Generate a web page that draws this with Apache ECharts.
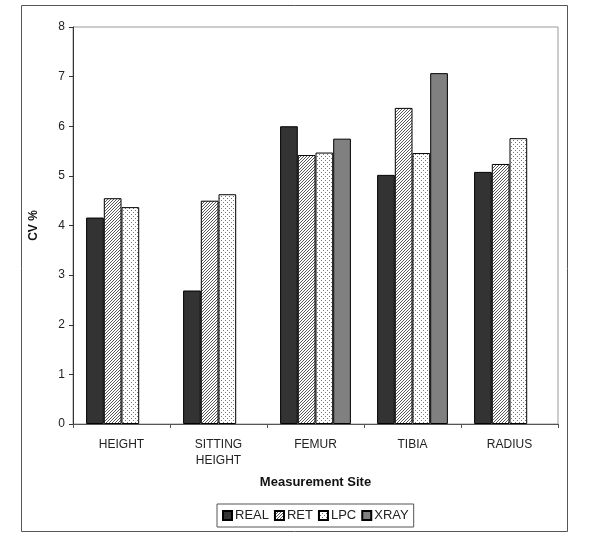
<!DOCTYPE html>
<html>
<head>
<meta charset="utf-8">
<script src="https://cdn.jsdelivr.net/npm/echarts@6/dist/echarts.min.js"></script>
<style>
  html, body { margin: 0; padding: 0; background: #fff; }
  #main { width: 600px; height: 537px; }
</style>
</head>
<body>
<div id="main"></div>
<script>
// 数据
var categories = ['HEIGHT', 'SITTING\nHEIGHT', 'FEMUR', 'TIBIA', 'RADIUS']
var real = [4.16, 2.69, 6.0, 5.02, 5.08]
var ret = [4.55, 4.5, 5.42, 6.37, 5.24]
var lpc = [4.37, 4.63, 5.47, 5.46, 5.76]
var xray = [null, null, 5.75, 7.07, null]
var yTicks = [0, 1, 2, 3, 4, 5, 6, 7, 8]

// 斜线填充
function hatch () {
  var c = document.createElement('canvas')
  c.width = 3
  c.height = 3
  var ctx = c.getContext('2d')
  ctx.fillStyle = '#fff'
  ctx.fillRect(0, 0, 3, 3)
  ctx.fillStyle = '#5a5a5a'
  for (var x = 0; x < 3; x++) {
    for (var y = 0; y < 3; y++) {
      if ((x + y) % 3 === 0) ctx.fillRect(x, y, 1, 1)
    }
  }
  return { image: c, repeat: 'repeat' }
}

// 点状填充
function dots () {
  var c = document.createElement('canvas')
  c.width = 4
  c.height = 4
  var ctx = c.getContext('2d')
  ctx.fillStyle = '#fff'
  ctx.fillRect(0, 0, 4, 4)
  ctx.fillStyle = '#777'
  ctx.fillRect(1, 0, 1, 1)
  ctx.fillRect(3, 2, 1, 1)
  return { image: c, repeat: 'repeat' }
}

var font = 'Liberation Sans'
var myChart = echarts.init(document.getElementById('main'))

function bar (name, data, color) {
  return {
    name: name,
    type: 'bar',
    data: data,
    barGap: '0%',
    barCategoryGap: '27%',
    itemStyle: { color: color, borderColor: '#000', borderWidth: 1 },
    animation: false
  }
}

var option = {
  backgroundColor: '#fff',
  animation: false,
  graphic: [{
    type: 'rect',
    shape: { x: 21.5, y: 5.5, width: 546, height: 526 },
    style: { fill: 'none', stroke: '#555', lineWidth: 1 },
    z: -1
  }],
  grid: {
    left: 73,
    right: 42,
    top: 27,
    bottom: 113,
    show: true,
    borderColor: '#999',
    borderWidth: 1
  },
  legend: {
    left: 217,
    top: 504,
    icon: 'rect',
    itemWidth: 9,
    itemHeight: 9,
    itemGap: 5,
    padding: [5, 5],
    borderColor: '#555',
    borderWidth: 1,
    textStyle: { fontFamily: font, fontSize: 13, color: '#222', padding: [0, 0, 0, -2] },
    data: ['REAL', 'RET', 'LPC', 'XRAY']
  },
  xAxis: {
    type: 'category',
    data: categories,
    name: 'Measurement Site',
    nameLocation: 'middle',
    nameGap: 52,
    nameTextStyle: { fontFamily: font, fontSize: 13, fontWeight: 'bold', color: '#111' },
    axisLine: { lineStyle: { color: '#555', width: 1 } },
    axisTick: { show: true, length: 4, lineStyle: { color: '#555' } },
    axisLabel: { fontFamily: font, fontSize: 12, color: '#222', margin: 13, lineHeight: 16 }
  },
  yAxis: {
    type: 'value',
    min: yTicks[0],
    max: yTicks[yTicks.length - 1],
    interval: 1,
    name: 'CV %',
    nameLocation: 'middle',
    nameGap: 33,
    nameRotate: 90,
    nameTextStyle: { fontFamily: font, fontSize: 12, fontWeight: 'bold', color: '#111' },
    axisLine: { show: true, lineStyle: { color: '#333', width: 1 } },
    axisTick: { show: true, length: 4, lineStyle: { color: '#333' } },
    axisLabel: { fontFamily: font, fontSize: 12, color: '#222', margin: 8 },
    splitLine: { show: false }
  },
  series: [
    bar('REAL', real, '#333333'),
    bar('RET', ret, hatch()),
    bar('LPC', lpc, dots()),
    bar('XRAY', xray, '#808080')
  ]
}
myChart.setOption(option)
</script>
</body>
</html>
